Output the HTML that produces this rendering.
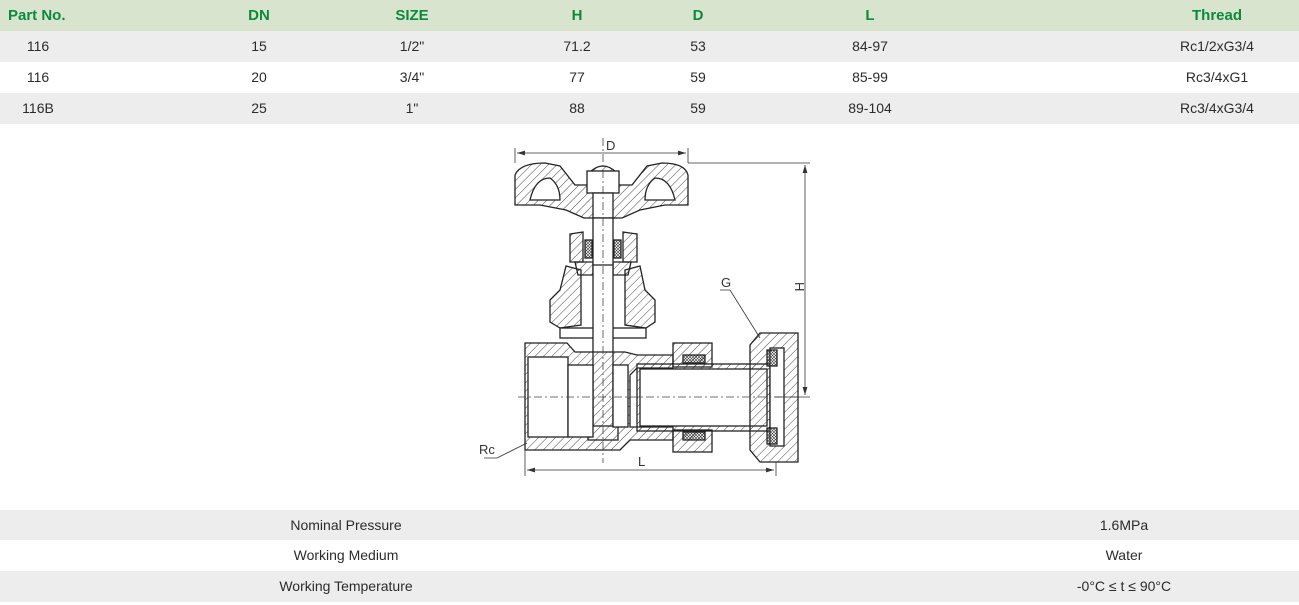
<!DOCTYPE html>
<html><head><meta charset="utf-8"><style>
*{margin:0;padding:0;box-sizing:border-box}
body{width:1299px;height:605px;background:#fff;font-family:"Liberation Sans",sans-serif;font-size:14px;color:#2b2b2b;position:relative;overflow:hidden}
.row{position:absolute;left:0;width:1299px;height:31px}
.c{position:absolute;top:0;line-height:31px;transform:translateX(-50%);white-space:nowrap}
.h{color:#0b8a3c;font-weight:bold;font-size:15px}
.g{background:#ededed}
</style></head><body>
<div class="row" style="top:0;background:#d9e4cf">
<span class="c h" style="left:0;transform:none;padding-left:8px">Part No.</span>
<span class="c h" style="left:259px">DN</span>
<span class="c h" style="left:412px">SIZE</span>
<span class="c h" style="left:577px">H</span>
<span class="c h" style="left:698px">D</span>
<span class="c h" style="left:870px">L</span>
<span class="c h" style="left:1217px">Thread</span>
</div>
<div class="row g" style="top:31px"><span class="c" style="left:38px">116</span><span class="c" style="left:259px">15</span><span class="c" style="left:412px">1/2"</span><span class="c" style="left:577px">71.2</span><span class="c" style="left:698px">53</span><span class="c" style="left:870px">84-97</span><span class="c" style="left:1217px">Rc1/2xG3/4</span></div>
<div class="row" style="top:62px"><span class="c" style="left:38px">116</span><span class="c" style="left:259px">20</span><span class="c" style="left:412px">3/4"</span><span class="c" style="left:577px">77</span><span class="c" style="left:698px">59</span><span class="c" style="left:870px">85-99</span><span class="c" style="left:1217px">Rc3/4xG1</span></div>
<div class="row g" style="top:93px"><span class="c" style="left:38px">116B</span><span class="c" style="left:259px">25</span><span class="c" style="left:412px">1"</span><span class="c" style="left:577px">88</span><span class="c" style="left:698px">59</span><span class="c" style="left:870px">89-104</span><span class="c" style="left:1217px">Rc3/4xG3/4</span></div>

<svg style="position:absolute;left:0;top:0" width="1299" height="605" font-family="Liberation Sans, sans-serif">
<defs>
<pattern id="hh" width="6" height="6" patternUnits="userSpaceOnUse" patternTransform="rotate(45)"><line x1="0" y1="0" x2="0" y2="6" stroke="#333" stroke-width="0.9"/></pattern>
<pattern id="xx" width="3" height="3" patternUnits="userSpaceOnUse"><path d="M0 0L3 3M3 0L0 3" stroke="#333" stroke-width="0.6"/></pattern>
<marker id="ar" markerWidth="10" markerHeight="6" refX="10" refY="3" orient="auto-start-reverse"><path d="M0 0L10 3L0 6z" fill="#333"/></marker>
</defs>
<g stroke="#222" stroke-width="1.3" fill="none">
<!-- handwheel -->
<path d="M515 205 L515 175 Q520 163 545 163 L560 166 L575 185 L590 185 L590 172 Q603 160 616 172 L616 185 L632 185 L647 166 L662 163 Q685 163 688 175 L688 205 L665 205 L640 210 L622 218 L584 218 L566 210 L540 205 Z" fill="url(#hh)"/>
<path d="M530 200 Q535 178 550 178 Q560 185 560 200 Z" fill="#fff"/>
<path d="M675 200 Q670 178 655 178 Q645 185 645 200 Z" fill="#fff"/>
<rect x="587" y="171" width="32" height="22" fill="#fff"/>
<rect x="593" y="193" width="20" height="25" fill="#fff"/>
<!-- packing nut -->
<path d="M570 234 L583 232 L583 262 L570 262 Z" fill="url(#hh)"/>
<path d="M623 232 L637 234 L637 262 L623 262 Z" fill="url(#hh)"/>
<rect x="585" y="240" width="7" height="18" fill="url(#xx)"/>
<rect x="614" y="240" width="7" height="18" fill="url(#xx)"/>
<!-- neck -->
<path d="M575 262 L593 262 L593 275 L578 275 Z" fill="url(#hh)"/>
<path d="M613 262 L631 262 L628 275 L613 275 Z" fill="url(#hh)"/>
<!-- bonnet -->
<path d="M566 266 L581 270 L581 325 L560 328 L550 322 L550 300 L560 290 Z" fill="url(#hh)"/>
<path d="M640 266 L625 270 L625 325 L646 328 L655 322 L655 300 L645 290 Z" fill="url(#hh)"/>
<rect x="560" y="328" width="86" height="10" fill="#fff"/>
<!-- stem -->
<rect x="593" y="218" width="20" height="220" fill="#fff"/>
<line x1="593" y1="265" x2="613" y2="265"/>
<rect x="588" y="426" width="30" height="14" fill="#fff"/>
<!-- body -->
<path d="M525 343 L567 343 L575 352 L625 352 L637 355 L673 355 L673 368 L637 368 L630 375 L630 427 L673 427 L673 440 L630 440 L620 450 L525 450 Z" fill="url(#hh)"/>
<rect x="528" y="357" width="40" height="80" fill="#fff"/>
<rect x="568" y="365" width="25" height="72" fill="#fff"/>
<rect x="613" y="365" width="15" height="62" fill="#fff"/>
<!-- tube -->
<rect x="637" y="364" width="133" height="67" fill="url(#hh)"/>
<rect x="640" y="369" width="127" height="57" fill="#fff"/>
<!-- small nut -->
<rect x="673" y="343" width="39" height="24" fill="url(#hh)"/>
<rect x="683" y="355" width="22" height="8" fill="url(#xx)"/>
<rect x="673" y="430" width="39" height="22" fill="url(#hh)"/>
<rect x="683" y="432" width="22" height="8" fill="url(#xx)"/>
<!-- union nut -->
<path d="M750 345 L760 333 L798 333 L798 462 L760 462 L750 450 Z" fill="url(#hh)"/>
<rect x="770" y="348" width="14" height="98" fill="#fff"/>
<rect x="767" y="350" width="10" height="16" fill="url(#xx)"/>
<rect x="767" y="428" width="10" height="16" fill="url(#xx)"/>
</g>
<g stroke="#444" stroke-width="0.8" stroke-dasharray="8 3 2 3">
<line x1="603" y1="138" x2="603" y2="463"/>
<line x1="518" y1="397" x2="800" y2="397"/>
</g>
<g stroke="#333" stroke-width="0.8" fill="none">
<line x1="515" y1="148" x2="515" y2="163"/><line x1="688" y1="148" x2="688" y2="163"/>
<line x1="517" y1="153" x2="686" y2="153" marker-start="url(#ar)" marker-end="url(#ar)"/>
<line x1="688" y1="163" x2="810" y2="163"/>
<line x1="775" y1="397" x2="810" y2="397"/>
<line x1="805" y1="165" x2="805" y2="395" marker-start="url(#ar)" marker-end="url(#ar)"/>
<line x1="525" y1="450" x2="525" y2="476"/><line x1="776" y1="462" x2="776" y2="476"/>
<line x1="527" y1="470" x2="774" y2="470" marker-start="url(#ar)" marker-end="url(#ar)"/>
<path d="M484 458 L497 458 L527 443"/>
<path d="M720 290 L730 290 L760 338"/>
</g>
<g fill="#333" font-size="13">
<text x="606" y="150">D</text>
<text x="638" y="466">L</text>
<text x="721" y="287">G</text>
<text x="479" y="454">Rc</text>
<text x="0" y="0" transform="translate(795,282) rotate(90)">H</text>
</g>
</svg>

<div class="row g" style="top:510px;height:30px"><span class="c" style="left:346px;line-height:30px">Nominal Pressure</span><span class="c" style="left:1124px;line-height:30px">1.6MPa</span></div>
<div class="row" style="top:540px"><span class="c" style="left:346px">Working Medium</span><span class="c" style="left:1124px">Water</span></div>
<div class="row g" style="top:571px"><span class="c" style="left:346px">Working Temperature</span><span class="c" style="left:1124px">-0°C ≤ t ≤ 90°C</span></div>
</body></html>
